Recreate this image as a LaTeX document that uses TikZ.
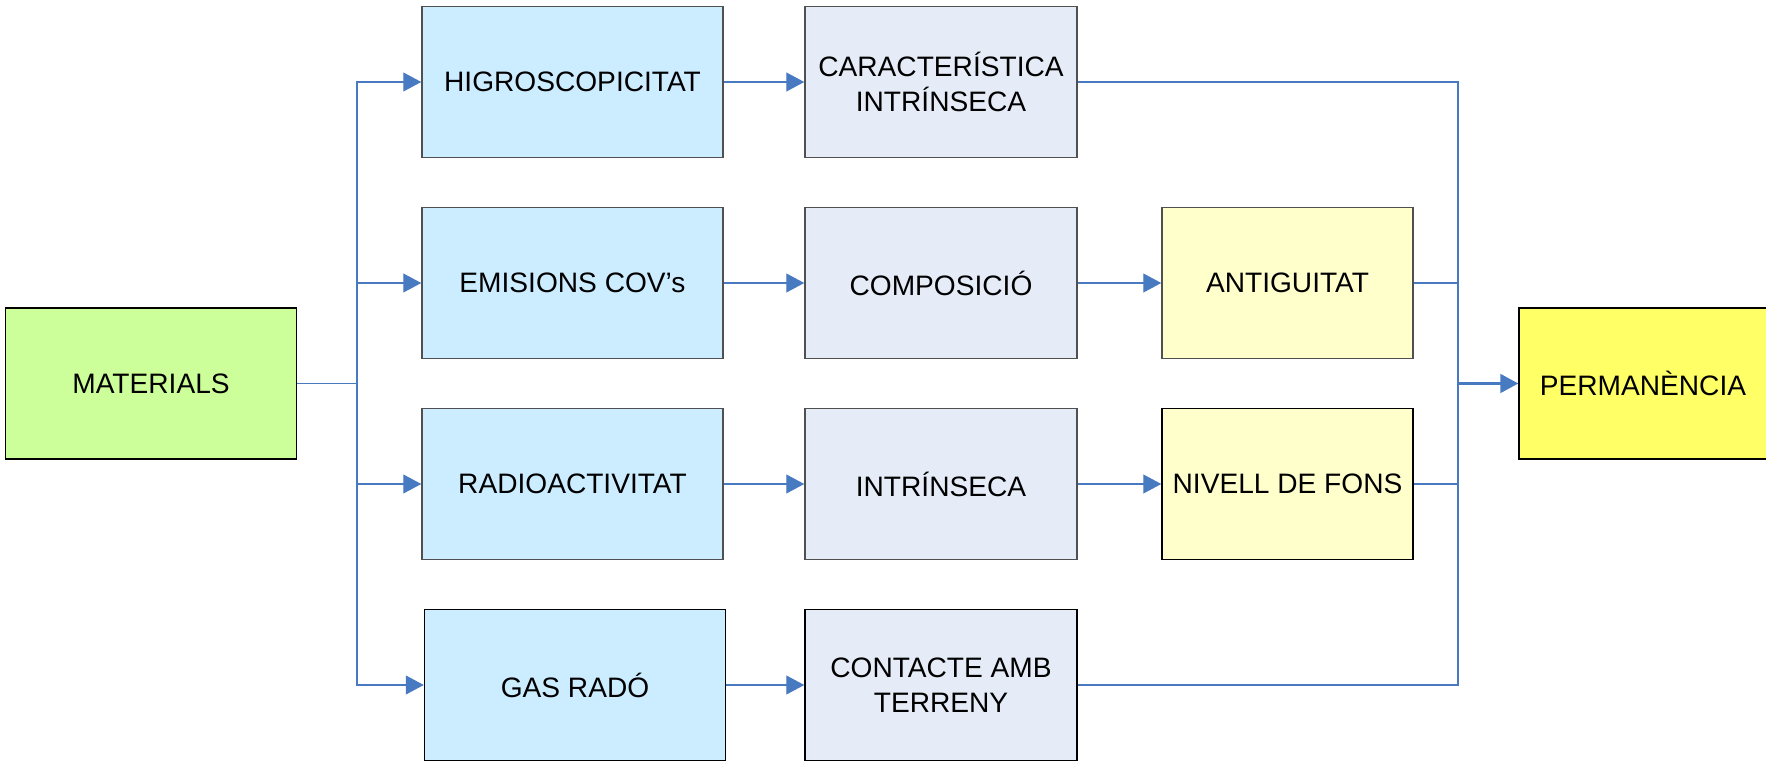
\documentclass[tikz,border=0pt]{standalone}
\usepackage{fontspec}
\setmainfont{Liberation Sans}
\usetikzlibrary{arrows.meta}

\definecolor{matgreen}{RGB}{204,255,153}
\definecolor{propblue}{RGB}{204,236,255}
\definecolor{causegray}{RGB}{229,236,247}
\definecolor{factyellow}{RGB}{255,255,204}
\definecolor{permyellow}{RGB}{255,255,102}
\definecolor{linkblue}{RGB}{72,122,194}
\definecolor{edgegray}{RGB}{80,80,80}

\begin{document}
\begin{tikzpicture}[
		box/.style={draw=edgegray, line width=0.85pt, minimum height=3.02cm, inner sep=0pt, align=center, font=\fontsize{16}{20}\selectfont},
		link/.style={draw=linkblue, line width=0.6pt},
		arr/.style={link, -{Triangle[length=0.36cm,width=0.38cm]}}
	]

			\useasboundingbox (0,0) rectangle (35.32,15.26);

			\node [box, fill=matgreen, draw=black, minimum width=5.81cm] (MAT) at (3.02,7.59) {MATERIALS};

			\node [box, fill=propblue, minimum width=6.02cm] (HIG) at (11.45,13.62) {HIGROSCOPICITAT};
			\node [box, fill=propblue, minimum width=6.02cm] (EMI) at (11.45,9.60) {EMISIONS COV’s};
			\node [box, fill=propblue, minimum width=6.02cm] (RAD) at (11.45,5.58) {RADIOACTIVITAT};
			\node [box, fill=propblue, draw=black, minimum width=6.02cm] (GAS) at (11.50,1.56) {GAS RADÓ};

			\node [box, fill=causegray, minimum width=5.44cm] (CAR) at (18.82,13.62) {CARACTERÍSTICA\\INTRÍNSECA};
			\node [box, fill=causegray, minimum width=5.44cm] (COM) at (18.82,9.60) {COMPOSICIÓ};
			\node [box, fill=causegray, minimum width=5.44cm] (INT) at (18.82,5.58) {INTRÍNSECA};
			\node [box, fill=causegray, draw=black, minimum width=5.44cm] (CON) at (18.82,1.56) {CONTACTE AMB\\TERRENY};

			\node [box, fill=factyellow, minimum width=5.02cm] (ANT) at (25.75,9.60) {ANTIGUITAT};
			\node [box, fill=factyellow, draw=black, minimum width=5.02cm] (NIV) at (25.75,5.58) {NIVELL DE FONS};

			\node [box, fill=permyellow, draw=black, minimum width=4.96cm] (PER) at (32.86,7.59) {PERMANÈNCIA};

			\coordinate (split) at (7.14,7.59);
			\coordinate (join) at (29.16,7.59);

			\draw [link, line width=1.1pt] (MAT)--(split);
			\draw [arr] (split) |- (HIG);
			\draw [arr] (split) |- (EMI);
			\draw [arr] (split) |- (RAD);
			\draw [arr] (split) |- (GAS);

			\draw [arr] (HIG)--(CAR);
			\draw [arr] (EMI)--(COM);
			\draw [arr] (RAD)--(INT);
			\draw [arr] (GAS)--(CON);
			\draw [arr] (COM)--(ANT);
			\draw [arr] (INT)--(NIV);

			\draw [link] (CAR) -| (join);
			\draw [link] (ANT) -| (join);
			\draw [link] (NIV) -| (join);
			\draw [link] (CON) -| (join);
			\draw [arr, line width=1.2pt] (join)--(PER);
		\end{tikzpicture}
\end{document}
